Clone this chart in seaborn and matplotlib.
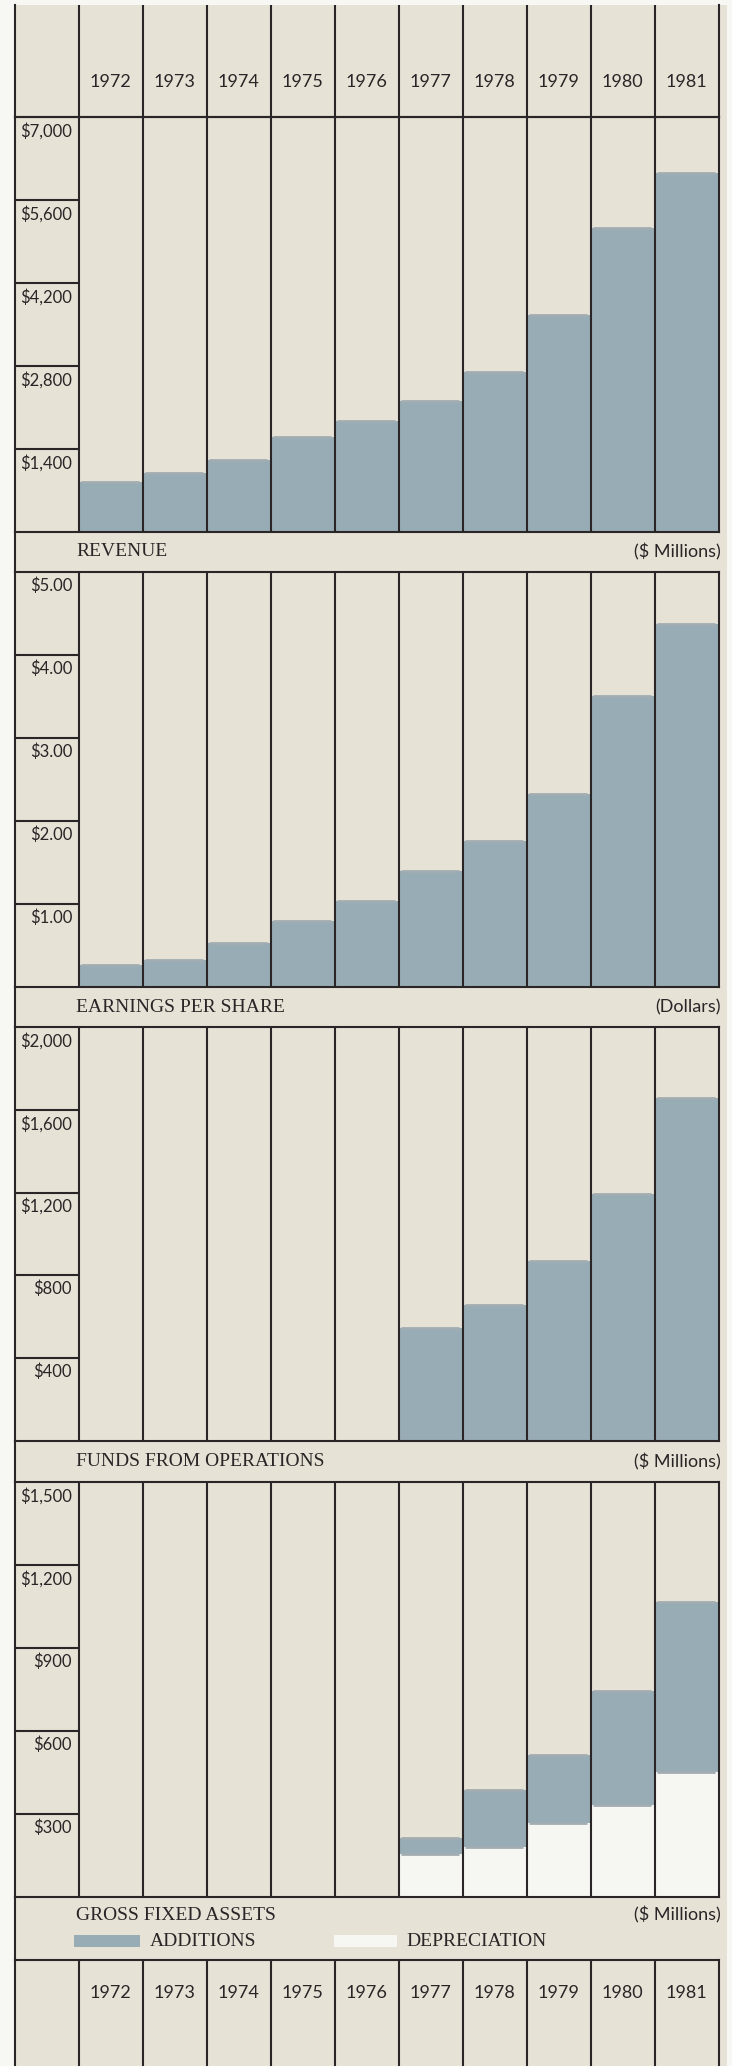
import numpy as np
import seaborn as sns
import matplotlib.pyplot as plt
from matplotlib.patches import Rectangle

# --- data ---
years = ['1972', '1973', '1974', '1975', '1976', '1977', '1978', '1979', '1980', '1981']

revenue = [849, 1000, 1214, 1597, 1877, 2215, 2704, 3660, 5122, 6050]
revenue_ticks = [1400, 2800, 4200, 5600, 7000]
revenue_labels = ['$1,400', '$2,800', '$4,200', '$5,600', '$7,000']

eps = [0.27, 0.33, 0.53, 0.79, 1.04, 1.40, 1.76, 2.32, 3.51, 4.37]
eps_ticks = [1, 2, 3, 4, 5]
eps_labels = ['$1.00', '$2.00', '$3.00', '$4.00', '$5.00']

funds = [np.nan, np.nan, np.nan, np.nan, np.nan, 545, 656, 870, 1193, 1659]
funds_ticks = [400, 800, 1200, 1600, 2000]
funds_labels = ['$400', '$800', '$1,200', '$1,600', '$2,000']

additions = [np.nan, np.nan, np.nan, np.nan, np.nan, 214, 388, 513, 746, 1067]
depreciation = [np.nan, np.nan, np.nan, np.nan, np.nan, 156, 180, 267, 331, 452]
gfa_ticks = [300, 600, 900, 1200, 1500]
gfa_labels = ['$300', '$600', '$900', '$1,200', '$1,500']

# --- style ---
PAGE = '#F7F7F3'
BEIGE = '#E6E2D6'
BLUE = '#98ACB5'
WHITE_BAR = '#F6F7F3'
STRIP = '#A2ADB2'
INK = '#2A2526'
LW = 1.5
SANS = ['Lato', 'DejaVu Sans']
SERIF = ['Liberation Serif', 'DejaVu Serif']

W, H = 732, 2066
X0, X1 = 14.5, 718.5

fig = plt.figure(figsize=(W / 100, H / 100), dpi=100, facecolor=PAGE)
fig.patches.append(Rectangle((X0 / W, 0), (727 - X0) / W, (H - 5) / H,
                             transform=fig.transFigure, facecolor=BEIGE,
                             edgecolor='none', zorder=-5))


def make_axes(top, bottom):
    ax = fig.add_axes([X0 / W, 1 - bottom / H, (X1 - X0) / W, (bottom - top) / H])
    ax.set_facecolor('none')
    ax.set_xlim(-1.5, 9.5)
    for s in ax.spines.values():
        s.set_color(INK)
        s.set_linewidth(LW)
    ax.set_xticks([])
    ax.set_yticks([])
    return ax


def column_lines(ax):
    for x in np.arange(-0.5, 9.0, 1.0):
        ax.axvline(x, color=INK, lw=LW, zorder=5)


def year_row(ax, ypos, top_spine, bottom_spine):
    ax.set_ylim(0, 1)
    ax.spines['top'].set_visible(top_spine)
    ax.spines['bottom'].set_visible(bottom_spine)
    column_lines(ax)
    for i, y in enumerate(years):
        ax.text(i, ypos, y, ha='center', va='center', fontsize=13,
                family=SANS, color=INK)


def bar_panel(ax, ticks, labels):
    ax.set_xlim(-1.5, 9.5)
    ax.set_ylim(0, ticks[-1])
    ax.set_xticks([])
    ax.set_yticks([])
    ax.set_xlabel('')
    ax.set_ylabel('')
    column_lines(ax)
    ax.hlines(ticks[:-1], -1.5, -0.5, color=INK, lw=LW, zorder=5)
    for t, lab in zip(ticks, labels):
        ax.annotate(lab, xy=(-0.6, t), xytext=(0, -4), textcoords='offset points',
                    ha='right', va='top', fontsize=12, family=SANS, color=INK)


def top_strips(ax, values):
    vals = np.array(values, dtype=float)
    pos = np.arange(len(vals))
    ok = np.isfinite(vals)
    ax.hlines(vals[ok], pos[ok] - 0.46, pos[ok] + 0.44, color=STRIP, lw=2, zorder=3)


def draw_bars(ax, values, color):
    sns.barplot(x=years, y=values, order=years, color=color, saturation=1,
                width=1.0, linewidth=0, ax=ax, errorbar=None)
    top_strips(ax, values)


def band(ax, title, units, ypos=0.5):
    ax.set_ylim(0, 1)
    ax.spines['top'].set_visible(False)
    ax.spines['bottom'].set_visible(False)
    ax.spines['right'].set_visible(False)
    ax.text(-0.54, ypos, title, ha='left', va='center', fontsize=14,
            family=SERIF, color=INK)
    ax.text(9.53, ypos, units, ha='right', va='center', fontsize=13,
            family=SANS, color=INK)


# header
year_row(make_axes(5, 117), 0.31, False, True)

# revenue
ax = make_axes(117, 532)
draw_bars(ax, revenue, BLUE)
bar_panel(ax, revenue_ticks, revenue_labels)
band(make_axes(532, 572), 'REVENUE', '($ Millions)')

# earnings per share
ax = make_axes(572, 987)
draw_bars(ax, eps, BLUE)
bar_panel(ax, eps_ticks, eps_labels)
band(make_axes(987, 1027), 'EARNINGS PER SHARE', '(Dollars)')

# funds from operations
ax = make_axes(1027, 1441)
draw_bars(ax, funds, BLUE)
bar_panel(ax, funds_ticks, funds_labels)
band(make_axes(1441, 1482), 'FUNDS FROM OPERATIONS', '($ Millions)')

# gross fixed assets: additions with depreciation drawn in front
ax = make_axes(1482, 1897)
draw_bars(ax, additions, BLUE)
draw_bars(ax, depreciation, WHITE_BAR)
bar_panel(ax, gfa_ticks, gfa_labels)
bax = make_axes(1897, 1960)
band(bax, 'GROSS FIXED ASSETS', '($ Millions)', ypos=0.71)
bax.add_patch(Rectangle((-0.57, 0.21), 1.03, 0.19, facecolor=BLUE, edgecolor='none'))
bax.text(0.62, 0.30, 'ADDITIONS', ha='left', va='center', fontsize=14,
         family=SERIF, color=INK)
bax.add_patch(Rectangle((3.49, 0.21), 0.99, 0.19, facecolor=WHITE_BAR, edgecolor='none'))
bax.text(4.62, 0.30, 'DEPRECIATION', ha='left', va='center', fontsize=14,
         family=SERIF, color=INK)

# footer
year_row(make_axes(1960, 2066), 0.69, True, False)

fig.savefig('out.png', dpi=100, facecolor=PAGE)
